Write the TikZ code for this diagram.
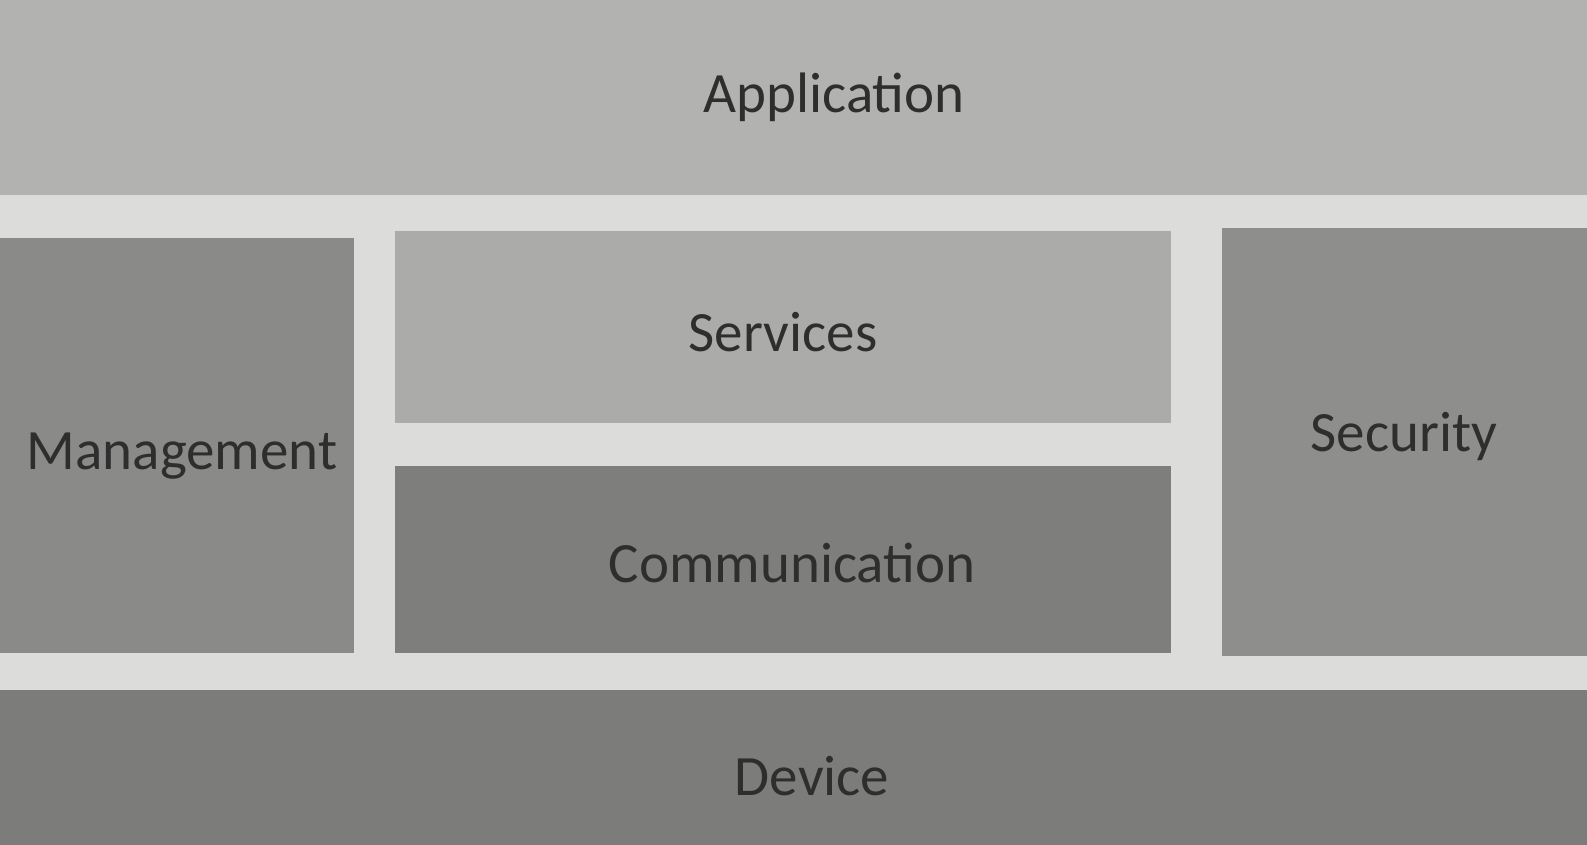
\documentclass[tikz,border=0pt]{standalone}
\usepackage{fontspec}
\setmainfont{Carlito}
\definecolor{bg}{HTML}{DCDCDA}
\definecolor{appc}{HTML}{B2B2B0}
\definecolor{servc}{HTML}{ABABA9}
\definecolor{mgmtc}{HTML}{8A8A88}
\definecolor{commc}{HTML}{7E7E7C}
\definecolor{secc}{HTML}{8E8E8C}
\definecolor{devc}{HTML}{7C7C7A}
\definecolor{txt}{HTML}{2E2E2E}
\tikzset{
  layer/.style={draw=none, inner sep=0pt, outer sep=0pt, anchor=north west},
  lbl/.style={text=txt, font=\fontsize{57}{62}\selectfont, inner sep=0pt}
}
\begin{document}
\begin{tikzpicture}[x=1pt,y=-1pt]
\fill[bg] (0,0) rectangle (1587,845);
\useasboundingbox (0,0) rectangle (1587,845);
% layers
\node[layer, fill=appc, minimum width=1587pt, minimum height=195pt] (app) at (0,0) {};
\node[layer, fill=mgmtc, minimum width=354pt, minimum height=415pt] (mgmt) at (0,238) {};
\node[layer, fill=servc, minimum width=776pt, minimum height=192pt] (serv) at (395,231) {};
\node[layer, fill=commc, minimum width=776pt, minimum height=187pt] (comm) at (395,466) {};
\node[layer, fill=secc, minimum width=365pt, minimum height=428pt] (sec) at (1222,228) {};
\node[layer, fill=devc, minimum width=1587pt, minimum height=155pt] (dev) at (0,690) {};
% labels
\node[lbl] (tapp) at (834,97) {Application};
\node[lbl] (tserv) at (783,332) {Services};
\node[lbl] (tmgmt) at (182,456) {Management};
\node[lbl] (tsec) at (1404,436) {Security};
\node[lbl] (tcomm) at (792,563) {Communication};
\node[lbl] (tdev) at (812,776) {Device};
\end{tikzpicture}
\end{document}
